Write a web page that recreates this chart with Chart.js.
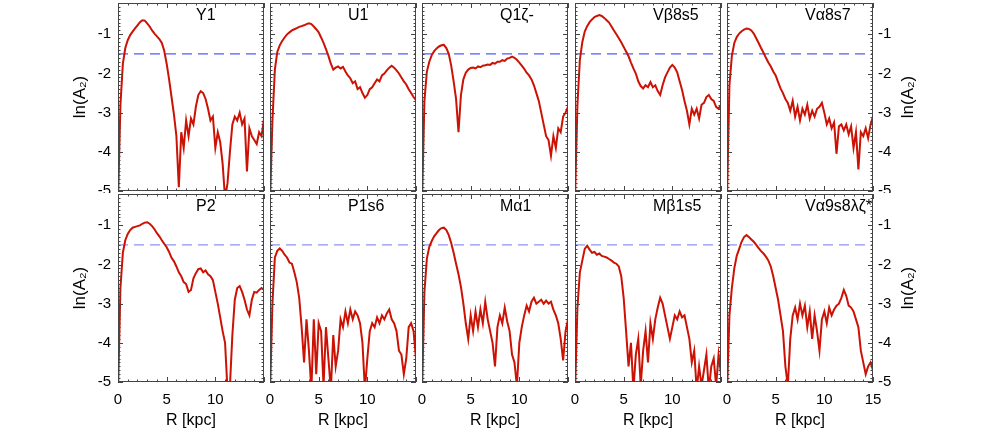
<!DOCTYPE html>
<html>
<head>
<meta charset="utf-8">
<script src="https://cdn.jsdelivr.net/npm/chart.js@4/dist/chart.umd.min.js"></script>
<style>
  html, body { margin: 0; padding: 0; background: #fff; }
  #wrap { position: relative; width: 981px; height: 435px; overflow: hidden; }
  #wrap canvas { position: absolute; }
</style>
</head>
<body>
<div id="wrap"></div>
<script>
// radius grid shared by every panel (kpc)
const radius = [
  0, 0.25, 0.5, 0.75, 1, 1.25, 1.5, 1.75, 2, 2.25,
  2.5, 2.75, 3, 3.25, 3.5, 3.75, 4, 4.25, 4.5, 4.75,
  5, 5.25, 5.5, 5.75, 6, 6.25, 6.5, 6.75, 7, 7.25,
  7.5, 7.75, 8, 8.25, 8.5, 8.75, 9, 9.25, 9.5, 9.75,
  10, 10.25, 10.5, 10.75, 11, 11.25, 11.5, 11.75, 12, 12.25,
  12.5, 12.75, 13, 13.25, 13.5, 13.75, 14, 14.25, 14.5, 14.75,
  15
];

const panelNames = ['Y1', 'U1', 'Q1ζ-', 'Vβ8s5', 'Vα8s7', 'P2', 'P1s6', 'Mα1', 'Mβ1s5', 'Vα9s8λζ*'];

// ln(A2) per panel
const y1 = [
  -5.3, -2.8, -1.75, -1.35, -1.15, -1.02, -0.93, -0.85, -0.77, -0.69,
  -0.64, -0.65, -0.72, -0.8, -0.9, -0.98, -1.05, -1.12, -1.22, -1.42,
  -1.75, -2.15, -2.6, -3.05, -3.6, -4.9, -3.5, -3.9, -3.2, -3.6,
  -3.15, -3.3, -2.85, -2.55, -2.45, -2.5, -2.65, -2.9, -3.2, -3.1,
  -3.9, -3.5, -3.75, -4.3, -5.2, -4.8, -4.0, -3.3, -3.1, -3.2,
  -3.0, -3.3, -3.15, -4.5, -3.4, -3.6, -3.7, -3.8, -3.5, -3.6,
  -3.15
];
const u1 = [
  -5.3, -3.2, -1.9, -1.45, -1.28, -1.17, -1.08, -1.0, -0.95, -0.9,
  -0.87, -0.84, -0.81, -0.79, -0.77, -0.74, -0.72, -0.74, -0.8, -0.87,
  -0.95, -1.08, -1.22, -1.38, -1.55, -1.75, -1.9, -1.85, -1.82, -1.87,
  -1.83, -1.95, -2.05, -2.12, -2.25, -2.2, -2.4, -2.35, -2.5, -2.62,
  -2.55, -2.4, -2.35, -2.25, -2.15, -2.2, -2.05, -2.0, -1.92, -1.85,
  -1.8, -1.85, -1.92, -2.0, -2.1, -2.2, -2.28, -2.4, -2.5, -2.6,
  -2.68
];
const q1 = [
  -5.3, -2.7, -1.95, -1.7, -1.53, -1.43, -1.36, -1.31, -1.28, -1.27,
  -1.35, -1.5, -1.8, -2.2, -2.65, -3.5, -2.55, -2.15, -1.98, -1.9,
  -1.86, -1.85, -1.87, -1.82, -1.84, -1.8, -1.79, -1.77, -1.78, -1.73,
  -1.75, -1.7, -1.7, -1.66, -1.68, -1.62, -1.6, -1.57, -1.6, -1.65,
  -1.72, -1.8, -1.88, -1.98, -2.05, -2.15, -2.3, -2.5, -2.7, -3.0,
  -3.3, -3.6, -3.7, -4.1, -3.6, -3.9, -3.4, -3.5, -3.1, -3.0,
  -2.85
];
const vb8s5 = [
  -5.2, -2.8, -1.65, -1.2, -0.93, -0.79, -0.69, -0.62, -0.56, -0.53,
  -0.51, -0.53, -0.58, -0.64, -0.7, -0.8, -0.9, -1.0, -1.1, -1.2,
  -1.32, -1.44, -1.56, -1.72, -1.87, -2.0, -2.2, -2.32, -2.38, -2.3,
  -2.35, -2.22, -2.35, -2.3, -2.45, -2.55, -2.3, -2.1, -1.97, -1.85,
  -1.78, -1.85, -1.97, -2.2, -2.42, -2.7, -2.95, -3.3, -2.9, -3.05,
  -2.9, -3.15, -2.8, -2.75, -2.6, -2.55, -2.65, -2.7, -2.85, -2.9,
  -2.8
];
const va8s7 = [
  -5.2, -2.3, -1.55, -1.22, -1.07, -0.98, -0.92, -0.88, -0.85, -0.86,
  -0.9, -0.98, -1.1, -1.22, -1.35, -1.47, -1.6, -1.72, -1.82, -1.95,
  -2.05, -2.22, -2.38, -2.5, -2.65, -2.75, -2.95, -2.7, -3.1, -2.85,
  -3.2, -2.9, -3.05, -2.8, -3.15, -2.95, -3.1, -2.9, -2.85, -2.75,
  -3.0, -3.3, -3.15, -3.4, -3.25, -4.05, -3.35, -3.3, -3.45, -3.3,
  -3.55, -3.35, -3.9, -3.5, -4.45, -3.5, -3.6, -3.4, -3.65, -3.3,
  -3.1
];
const p2 = [
  -5.3, -2.6, -1.7, -1.38, -1.22, -1.12, -1.06, -1.04, -1.02, -1.0,
  -0.96, -0.93, -0.92, -0.96, -1.02, -1.1, -1.2, -1.28, -1.38, -1.47,
  -1.56, -1.68, -1.83, -1.92, -2.05, -2.2, -2.3, -2.45, -2.5, -2.7,
  -2.65, -2.35, -2.22, -2.12, -2.1, -2.2, -2.15, -2.25, -2.3, -2.4,
  -2.7, -3.0, -3.35, -3.7, -4.0, -5.2, -5.1, -3.8, -2.9, -2.6,
  -2.55, -2.7, -2.9, -3.15, -3.3, -2.9, -2.7, -2.72, -2.65, -2.6,
  -2.65
];
const p1s6 = [
  -5.3, -3.0, -1.82, -1.65, -1.59, -1.65, -1.75, -1.82, -1.95, -1.98,
  -2.2, -2.45, -2.85, -3.6, -4.5, -3.4, -4.2, -5.2, -3.4, -4.8,
  -3.5, -3.7, -5.1, -3.6, -4.4, -5.2, -3.8, -4.6, -4.2, -3.4,
  -3.6, -3.2, -3.5, -3.15, -3.4, -3.2, -3.3, -3.5, -4.0, -5.2,
  -4.4, -3.7, -3.5, -3.6, -3.35, -3.5, -3.3, -3.4, -3.25, -3.15,
  -3.4, -3.5, -3.7, -4.2, -4.3, -4.8, -4.4, -3.6, -3.5, -3.7,
  -4.4
];
const ma1 = [
  -5.3, -2.7, -1.85, -1.55, -1.4, -1.28, -1.2, -1.12, -1.07, -1.06,
  -1.12, -1.25, -1.45, -1.7, -1.98, -2.25, -2.57, -3.0, -3.5, -3.9,
  -3.3, -3.7, -3.2, -3.6, -3.15, -3.5, -2.95, -3.4, -3.7, -4.0,
  -4.6, -3.6, -3.3, -3.5, -3.1, -3.45, -3.7, -4.3, -4.5, -5.1,
  -4.0, -3.6, -3.3, -3.05, -3.2, -2.95, -2.85, -3.0, -2.95, -2.9,
  -3.0, -2.92, -3.0, -2.95, -3.15, -3.3, -3.5, -3.9, -4.45, -3.7,
  -3.4
];
const mb1s5 = [
  -5.3, -3.1, -2.2, -1.9, -1.6, -1.52, -1.62, -1.7, -1.68, -1.75,
  -1.72, -1.78, -1.8, -1.82, -1.86, -1.9, -1.95, -1.98, -2.05, -2.3,
  -2.85, -3.7, -4.6, -4.0, -5.2, -4.3, -3.9, -5.1, -4.2, -3.7,
  -4.5, -3.5, -3.9, -3.4, -3.1, -2.85, -3.0, -3.3, -3.6, -3.9,
  -3.6, -3.3, -3.4, -3.2, -3.35, -3.3, -3.6, -3.9, -4.5, -4.2,
  -5.2, -4.6, -5.1, -4.7, -4.3, -5.2, -4.6, -4.4, -5.1, -4.3,
  -4.8
];
const va9s8 = [
  -5.3, -3.3, -2.6, -2.1, -1.78, -1.6, -1.42, -1.3, -1.25, -1.3,
  -1.36, -1.42, -1.5, -1.58, -1.66, -1.72, -1.8, -1.9, -2.05, -2.3,
  -2.6, -2.9, -3.3, -3.7, -4.6, -5.1, -3.9, -3.3, -3.1, -3.4,
  -3.0, -3.3, -3.05, -3.6, -3.2, -3.9, -3.3, -3.7, -4.2, -3.4,
  -3.2, -3.5, -3.1, -3.3, -3.15, -3.05, -3.0, -2.85, -2.65, -2.8,
  -3.05, -3.1, -3.2, -3.4, -3.6, -4.2, -4.5, -4.8, -4.6, -4.5,
  -4.7
];

const panelSeries = [y1, u1, q1, vb8s5, va8s7, p2, p1s6, ma1, mb1s5, va9s8];

const xTickValues = [0, 5, 10, 15];
const yTickValues = [-5, -4, -3, -2, -1];
const refLevel = -1.5;

// layout of the 2 x 5 grid (page pixels)
const COL_LEFT = [118, 270, 422, 575, 727];
const ROW_TOP = [3, 194];
const PLOT_W = 146;
const PLOT_H = 188;
const LEFT_M = 52, RIGHT_M = 70, TOP_M = 3;

const FONT = "'Liberation Sans', Arial, Helvetica, sans-serif";
const RED = 'rgb(204,18,4)';
const DASH_COLOR = ['#2233ee', '#6f78e6'];

const framePlugin = {
  id: 'frame',
  afterDatasetsDraw(chart, args, opts) {
    const { ctx, chartArea: a, scales: { x, y } } = chart;
    ctx.save();
    ctx.strokeStyle = '#444';
    ctx.lineWidth = 1;
    ctx.strokeRect(a.left + 0.5, a.top + 0.5, a.right - a.left - 1, a.bottom - a.top - 1);

    ctx.beginPath();
    for (let v = 0; v <= 15; v++) {
      const px = Math.round(x.getPixelForValue(v)) + 0.5;
      const len = v % 5 === 0 ? 5 : 2.5;
      ctx.moveTo(px, a.bottom); ctx.lineTo(px, a.bottom - len);
      ctx.moveTo(px, a.top); ctx.lineTo(px, a.top + len);
    }
    for (let k = 0; k <= 48; k++) {
      const v = -5 + k * 0.1;
      const py = Math.round(y.getPixelForValue(v)) + 0.5;
      const len = k % 10 === 0 ? 5 : 2.5;
      ctx.moveTo(a.left, py); ctx.lineTo(a.left + len, py);
      ctx.moveTo(a.right, py); ctx.lineTo(a.right - len, py);
    }
    ctx.stroke();

    ctx.fillStyle = '#000';
    ctx.font = '16px ' + FONT;
    ctx.textBaseline = 'middle';
    ctx.textAlign = 'left';
    ctx.fillText(opts.name, a.left + 78, a.top + 13);

    if (opts.rightTitle) {
      ctx.font = '17px ' + FONT;
      ctx.translate(a.right + 35, (a.top + a.bottom) / 2);
      ctx.rotate(-Math.PI / 2);
      ctx.textAlign = 'center';
      ctx.fillText('ln(A₂)', 0, 0);
    }
    ctx.restore();
  }
};

const wrap = document.getElementById('wrap');

panelSeries.forEach((vals, i) => {
  const row = Math.floor(i / 5);
  const col = i % 5;
  const bottomRow = row === 1;
  const bottomM = bottomRow ? 52 : 2;

  const canvas = document.createElement('canvas');
  canvas.width = LEFT_M + PLOT_W + RIGHT_M;
  canvas.height = TOP_M + PLOT_H + bottomM;
  canvas.style.left = (COL_LEFT[col] - LEFT_M) + 'px';
  canvas.style.top = (ROW_TOP[row] - TOP_M) + 'px';
  wrap.appendChild(canvas);

  const tickFont = { family: FONT, size: 15 };
  const titleFont = { family: FONT, size: 16 };

  // fixed box sizes so that every plot area lines up
  const fixX = s => { s.height = bottomM; s.paddingLeft = 0; s.paddingRight = 0; };
  const fixY = w => s => { s.width = w; s.paddingTop = 0; s.paddingBottom = 0; };

  new Chart(canvas, {
    type: 'line',
    data: {
      datasets: [
        {
          data: vals.map((v, k) => ({ x: radius[k], y: v })),
          borderColor: RED,
          borderWidth: 2,
          pointRadius: 0,
          tension: 0,
        },
        {
          data: [{ x: 0, y: refLevel }, { x: 15, y: refLevel }],
          borderColor: DASH_COLOR[row],
          borderWidth: 1,
          borderDash: [10, 6],
          pointRadius: 0,
        },
      ],
    },
    options: {
      responsive: false,
      animation: false,
      layout: { padding: { top: TOP_M, left: 0, right: 0, bottom: 0 } },
      plugins: {
        legend: { display: false },
        tooltip: { enabled: false },
        frame: { name: panelNames[i], rightTitle: col === 4 },
      },
      scales: {
        x: {
          type: 'linear', min: 0, max: 15, position: 'bottom',
          grid: { display: false, drawTicks: false },
          border: { display: false },
          afterBuildTicks: s => {
            const vs = col === 4 ? xTickValues : xTickValues.slice(0, 3);
            s.ticks = vs.map(v => ({ value: v }));
          },
          afterFit: fixX,
          ticks: { display: bottomRow, color: '#000', font: tickFont, padding: 9, maxRotation: 0, autoSkip: false },
          title: { display: bottomRow, text: 'R [kpc]', color: '#000', font: titleFont, padding: { top: 4, bottom: 4 } },
        },
        y: {
          type: 'linear', min: -5, max: -0.2, position: 'left',
          grid: { display: false, drawTicks: false },
          border: { display: false },
          afterBuildTicks: s => { s.ticks = yTickValues.map(v => ({ value: v })); },
          afterFit: fixY(LEFT_M),
          ticks: { display: col === 0, color: '#000', font: tickFont, padding: 7 },
          title: { display: col === 0, text: 'ln(A₂)', color: '#000', font: { family: FONT, size: 17 }, padding: { top: 4, bottom: 4 } },
        },
        y2: {
          type: 'linear', min: -5, max: -0.2, position: 'right',
          grid: { display: false, drawTicks: false },
          border: { display: false },
          afterBuildTicks: s => { s.ticks = yTickValues.map(v => ({ value: v })); },
          afterFit: fixY(RIGHT_M),
          ticks: { display: col === 4, color: '#000', font: tickFont, padding: 5 },
        },
      },
    },
    plugins: [framePlugin],
  });
});
</script>
</body>
</html>
